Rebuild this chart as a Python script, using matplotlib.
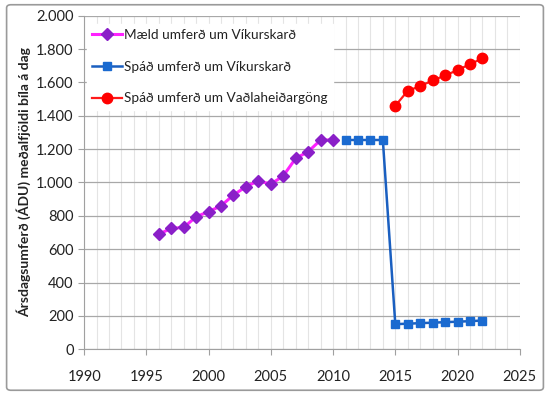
import matplotlib.pyplot as plt
from matplotlib.patches import FancyBboxPatch
from matplotlib.ticker import FuncFormatter, MultipleLocator

plt.rcParams['font.family'] = ['Lato', 'DejaVu Sans']

# data
maeld_ar = [1996, 1997, 1998, 1999, 2000, 2001, 2002, 2003, 2004, 2005, 2006, 2007, 2008, 2009, 2010]
maeld = [690, 725, 730, 795, 825, 860, 925, 975, 1010, 990, 1040, 1145, 1185, 1255, 1255]

spa_vik_ar = [2011, 2012, 2013, 2014, 2015, 2016, 2017, 2018, 2019, 2020, 2021, 2022]
spa_vik = [1255, 1255, 1255, 1255, 150, 153, 156, 159, 162, 165, 168, 172]

spa_vad_ar = [2015, 2016, 2017, 2018, 2019, 2020, 2021, 2022]
spa_vad = [1460, 1550, 1578, 1612, 1642, 1674, 1710, 1744]

labels = ['Mæld umferð um Víkurskarð', 'Spáð umferð um Víkurskarð', 'Spáð umferð um Vaðlaheiðargöng']

fig = plt.figure(figsize=(5.5, 3.95), dpi=100)
ax = fig.add_axes([0.153, 0.116, 0.792, 0.844])

ax.plot(maeld_ar, maeld, color='#ff22ff', lw=2.2, marker='D', ms=6,
        mfc='#8a1fc8', mec='#8a1fc8', label=labels[0], zorder=3)
ax.plot(spa_vik_ar, spa_vik, color='#1a5fc0', lw=1.8, marker='s', ms=6,
        mfc='#1a6ad0', mec='#1a6ad0', label=labels[1], zorder=3)
ax.plot(spa_vad_ar, spa_vad, color='#ff1a1a', lw=1.6, marker='o', ms=7.5,
        mfc='#ff0000', mec='#ff0000', label=labels[2], zorder=3)

ax.set_xlim(1990, 2025)
ax.set_ylim(0, 2000)
ax.xaxis.set_major_locator(MultipleLocator(5))
ax.xaxis.set_minor_locator(MultipleLocator(1))
ax.yaxis.set_major_locator(MultipleLocator(200))
ax.yaxis.set_major_formatter(FuncFormatter(lambda v, p: f'{int(v):,}'.replace(',', '.')))

ax.grid(True, which='minor', axis='x', color='#e4e4e4', lw=0.8)
ax.grid(True, which='major', axis='x', color='#e4e4e4', lw=0.8)
ax.grid(True, which='major', axis='y', color='#a8a8a8', lw=0.9)
ax.set_axisbelow(True)

for s in ['top', 'right']:
    ax.spines[s].set_visible(False)
for s in ['left', 'bottom']:
    ax.spines[s].set_color('#a0a0a0')
ax.tick_params(axis='both', which='major', labelsize=10.5, colors='#a0a0a0',
               labelcolor='#222222', length=4)
ax.tick_params(axis='x', which='minor', length=0)
ax.tick_params(axis='x', pad=11)

ax.set_ylabel('Ársdagsumferð (ÁDU) meðalfjöldi bíla á dag', fontsize=10,
              fontweight='bold', color='#222222', labelpad=4)

leg = ax.legend(loc='upper left', bbox_to_anchor=(0.0, 0.985), frameon=True,
                fontsize=9.8, handlelength=2.2, handletextpad=0.1,
                labelspacing=1.45, borderaxespad=0.2, fancybox=False)
leg.get_frame().set_edgecolor('white')
leg.get_frame().set_facecolor('white')
leg.get_frame().set_alpha(1)
for t in leg.get_texts():
    t.set_color('#222222')

# frame around the chart
fig.patches.append(FancyBboxPatch((0.012, 0.012), 0.976, 0.976,
                                  boxstyle='round,pad=0,rounding_size=0.008',
                                  transform=fig.transFigure, fill=False,
                                  edgecolor='#9a9a9a', lw=1.2))

fig.savefig('out.png', dpi=100)
